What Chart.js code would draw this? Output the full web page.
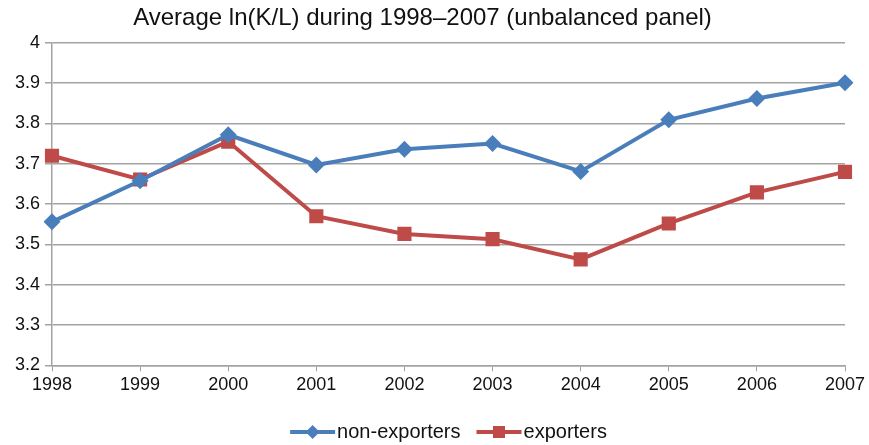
<!DOCTYPE html>
<html lang="en">
<head>
  <meta charset="UTF-8">
  <title>Average ln(K/L) during 1998–2007</title>
  <style>
    html, body { margin: 0; padding: 0; background: #fff; }
    .chart-box { width: 869px; height: 445px; position: relative; }
  </style>
</head>
<body>
  <div class="chart-box">
    <canvas id="klChart"></canvas>
  </div>
  <script src="https://cdn.jsdelivr.net/npm/chart.js"></script>
  <script>
    const years = ['1998', '1999', '2000', '2001', '2002', '2003', '2004', '2005', '2006', '2007'];
    const nonExporters = [3.556, 3.658, 3.772, 3.697, 3.736, 3.750, 3.681, 3.809, 3.862, 3.901];
    const exporters = [3.720, 3.661, 3.755, 3.570, 3.526, 3.513, 3.463, 3.552, 3.629, 3.680];
    const yTicks = [3.2, 3.3, 3.4, 3.5, 3.6, 3.7, 3.8, 3.9, 4];

    const FONT = "'Liberation Sans', Arial, Helvetica, sans-serif";
    const BLUE = '#4a7ebb';
    const RED = '#be4b48';
    const GRID = '#a3a3a3';

    // legend below the plot: short line with the marker in its middle, then the label
    const lineLegend = {
      id: 'lineLegend',
      afterDraw(chart) {
        const ctx = chart.ctx;
        const area = chart.chartArea;
        const items = chart.data.datasets;
        const lineW = 45, gap = 2, itemGap = 16;
        ctx.save();
        ctx.font = '20px ' + FONT;
        let total = 0;
        items.forEach((ds, i) => {
          total += lineW + gap + ctx.measureText(ds.label).width;
          if (i < items.length - 1) total += itemGap;
        });
        let x = (area.left + area.right) / 2 - total / 2;
        const y = 432;
        items.forEach(ds => {
          ctx.strokeStyle = ds.borderColor;
          ctx.lineWidth = 4;
          ctx.beginPath();
          ctx.moveTo(x, y);
          ctx.lineTo(x + lineW, y);
          ctx.stroke();
          const cx = x + lineW / 2;
          ctx.fillStyle = ds.borderColor;
          ctx.beginPath();
          if (ds.pointStyle === 'rectRot') {
            const r = 7;
            ctx.moveTo(cx, y - r);
            ctx.lineTo(cx + r, y);
            ctx.lineTo(cx, y + r);
            ctx.lineTo(cx - r, y);
            ctx.closePath();
          } else {
            ctx.rect(cx - 6, y - 6, 12, 12);
          }
          ctx.fill();
          x += lineW + gap;
          ctx.fillStyle = '#111';
          ctx.textBaseline = 'middle';
          ctx.textAlign = 'left';
          ctx.fillText(ds.label, x, y);
          x += ctx.measureText(ds.label).width + itemGap;
        });
        ctx.restore();
      }
    };

    new Chart(document.getElementById('klChart'), {
      type: 'line',
      data: {
        labels: years,
        datasets: [
          {
            label: 'non-exporters',
            data: nonExporters,
            borderColor: BLUE,
            backgroundColor: BLUE,
            borderWidth: 4,
            pointStyle: 'rectRot',
            pointRadius: 8.5,
            pointBorderWidth: 0,
            tension: 0,
            fill: false
          },
          {
            label: 'exporters',
            data: exporters,
            borderColor: RED,
            backgroundColor: RED,
            borderWidth: 4,
            pointStyle: 'rect',
            pointRadius: 10,
            pointBorderWidth: 0,
            tension: 0,
            fill: false
          }
        ]
      },
      options: {
        responsive: true,
        maintainAspectRatio: false,
        animation: false,
        layout: { padding: { left: 0, right: 24, top: 0, bottom: 46 } },
        plugins: {
          legend: { display: false },
          tooltip: { enabled: false },
          title: {
            display: true,
            text: 'Average ln(K/L) during 1998–2007 (unbalanced panel)',
            color: '#111',
            font: { family: FONT, size: 24, weight: 'normal' },
            padding: { top: 4, bottom: 10 }
          }
        },
        scales: {
          x: {
            offset: false,
            grid: { display: true, drawOnChartArea: false, drawTicks: true, tickLength: 6, color: GRID },
            border: { color: GRID, width: 1.5 },
            ticks: { color: '#111', font: { family: FONT, size: 18 }, padding: 3, maxRotation: 0, autoSkip: false }
          },
          y: {
            min: 3.2,
            max: 4,
            afterBuildTicks(scale) { scale.ticks = yTicks.map(v => ({ value: v })); },
            afterFit(scale) { scale.width = 52; },
            grid: { color: GRID, lineWidth: 1.5, tickLength: 7 },
            border: { color: GRID, width: 1.5 },
            ticks: {
              color: '#111',
              font: { family: FONT, size: 18 },
              padding: 5,
              callback: v => String(Math.round(v * 10) / 10)
            }
          }
        }
      },
      plugins: [lineLegend]
    });
  </script>
</body>
</html>
